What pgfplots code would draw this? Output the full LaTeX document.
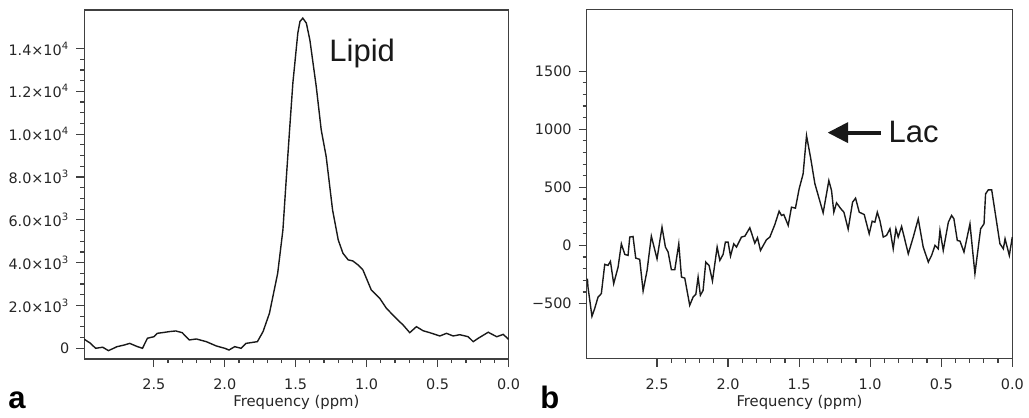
\documentclass[border=0pt]{standalone}
\usepackage{pgfplots}
\pgfplotsset{compat=1.18}
\usepackage{fontspec}
\setmainfont{Liberation Sans}
\newfontfamily\dejavu{DejaVu Sans}
\usetikzlibrary{arrows.meta}

\pgfplotstableread{
x y
2.99 420
2.95 250
2.91 0
2.86 50
2.82 -110
2.79 -20
2.76 75
2.71 150
2.67 230
2.62 90
2.58 0
2.545 470
2.50 540
2.475 700
2.43 740
2.39 780
2.345 810
2.30 730
2.25 390
2.20 435
2.13 310
2.06 110
2.00 0
1.97 -80
1.93 75
1.885 0
1.85 230
1.77 310
1.73 780
1.685 1635
1.627 3500
1.59 5530
1.567 7860
1.543 10200
1.52 12380
1.485 14720
1.47 15260
1.45 15420
1.425 15190
1.40 14400
1.355 12220
1.32 10200
1.285 8950
1.24 6460
1.20 5060
1.167 4440
1.13 4130
1.097 4080
1.06 3890
1.026 3660
0.967 2720
0.908 2340
0.861 1870
0.78 1320
0.743 1090
0.696 730
0.649 1010
0.602 820
0.555 730
0.484 575
0.437 700
0.39 575
0.343 635
0.284 540
0.249 310
0.213 470
0.143 750
0.083 540
0.037 650
0.0 420
}\lipid

\pgfplotstableread{
x y
2.99 -286
2.986 -358
2.958 -610
2.939 -544
2.915 -444
2.892 -415
2.868 -163
2.845 -172
2.828 -137
2.805 -329
2.774 -186
2.751 14
2.727 -77
2.704 -86
2.692 72
2.669 77
2.650 -109
2.622 -120
2.598 -392
2.570 -215
2.540 80
2.500 -115
2.465 157
2.441 -14
2.422 -57
2.399 -209
2.375 -209
2.347 14
2.328 -272
2.305 -281
2.270 -515
2.246 -444
2.227 -421
2.211 -272
2.195 -429
2.176 -387
2.157 -143
2.134 -172
2.110 -306
2.077 -14
2.058 -129
2.035 -77
2.019 29
2.000 29
1.983 -92
1.960 14
1.941 -14
1.906 72
1.882 80
1.847 152
1.812 20
1.793 66
1.772 -43
1.730 49
1.706 72
1.671 180
1.641 295
1.624 258
1.608 266
1.577 172
1.554 329
1.526 321
1.500 487
1.472 616
1.448 945
1.420 759
1.389 530
1.331 281
1.291 558
1.272 472
1.256 286
1.237 366
1.206 315
1.185 286
1.155 140
1.124 372
1.103 407
1.077 286
1.042 266
1.007 100
0.986 209
0.967 200
0.950 286
0.932 215
0.908 72
0.885 86
0.861 143
0.838 -29
0.819 143
0.803 72
0.779 163
0.732 -72
0.697 72
0.662 229
0.627 -14
0.591 -143
0.568 -86
0.544 0
0.521 -29
0.509 129
0.486 -43
0.450 200
0.427 258
0.411 229
0.387 43
0.368 37
0.340 -57
0.298 186
0.263 -243
0.223 143
0.199 186
0.188 444
0.169 478
0.145 478
0.087 14
0.063 -29
0.051 57
0.021 -86
0.0 72
}\lac

\pgfplotsset{
  specaxis/.style={
    scale only axis,
    anchor=south west,
    x dir=reverse,
    xmin=0,
    scaled x ticks=false,
    scaled y ticks=false,
    axis line style={draw=black!75, line width=0.7pt},
    tick style={draw=black!75, line width=0.6pt},
    tick align=outside,
    xtick pos=bottom,
    ytick pos=left,
    major tick length=4pt,
    minor tick length=2pt,
    xtick={0,0.5,1,1.5,2,2.5},
    xticklabels={0.0,0.5,1.0,1.5,2.0,2.5},
    minor x tick num=4,
    /pgf/number format/assume math mode=true,
    tick label style={font=\dejavu\fontsize{7.2}{8}\selectfont, text=black!85},
    xticklabel style={yshift=-2.5pt},
    xlabel={Frequency (ppm)},
    xlabel style={font=\dejavu\fontsize{7.4}{8}\selectfont, text=black!85,
      at={(axis description cs:0.5,0)}, anchor=north, inner sep=0pt, yshift=-18pt},
    clip=false,
  }
}

\begin{document}
\begin{tikzpicture}
\useasboundingbox (0,0) rectangle (514.5pt,209pt);

\begin{axis}[specaxis,
  at={(42.15pt,29.5pt)},
  width=212.1pt, height=174.5pt,
  xmax=2.99,
  ymin=-500, ymax=15800,
  ytick={0,2000,4000,6000,8000,10000,12000,14000},
  yticklabels={0,
    2.0×10\textsuperscript{3},
    4.0×10\textsuperscript{3},
    6.0×10\textsuperscript{3},
    8.0×10\textsuperscript{3},
    1.0×10\textsuperscript{4},
    1.2×10\textsuperscript{4},
    1.4×10\textsuperscript{4}},
  minor y tick num=3,
]
\addplot[black!90, line width=0.7pt] table[x=x,y=y] {\lipid};
\node[anchor=base west, inner sep=0pt, font=\fontsize{15.5}{17}\selectfont, text=black!90]
  at (axis cs:1.265,13393) {Lipid};
\end{axis}

\begin{axis}[specaxis,
  at={(293.35pt,29.65pt)},
  width=212.8pt, height=174.55pt,
  xmax=2.995,
  ymin=-975, ymax=2030,
  ytick={-500,0,500,1000,1500},
  yticklabels={−500,0,500,1000,1500},
  minor y tick num=4,
]
\addplot[black!90, line width=0.7pt] table[x=x,y=y] {\lac};
\draw[black!90, line width=2pt, -{Triangle[length=10.3pt,width=10pt]}]
  (axis cs:0.927,971) -- (axis cs:1.30,971);
\node[anchor=base west, inner sep=0pt, font=\fontsize{15.5}{17}\selectfont, text=black!90]
  at (axis cs:0.873,885) {Lac};
\end{axis}

\node[anchor=base west, inner sep=0pt, font=\bfseries\fontsize{15.5}{17}\selectfont] at (4pt,5pt) {a};
\node[anchor=base west, inner sep=0pt, font=\bfseries\fontsize{15.5}{17}\selectfont] at (270pt,5pt) {b};
\end{tikzpicture}
\end{document}
